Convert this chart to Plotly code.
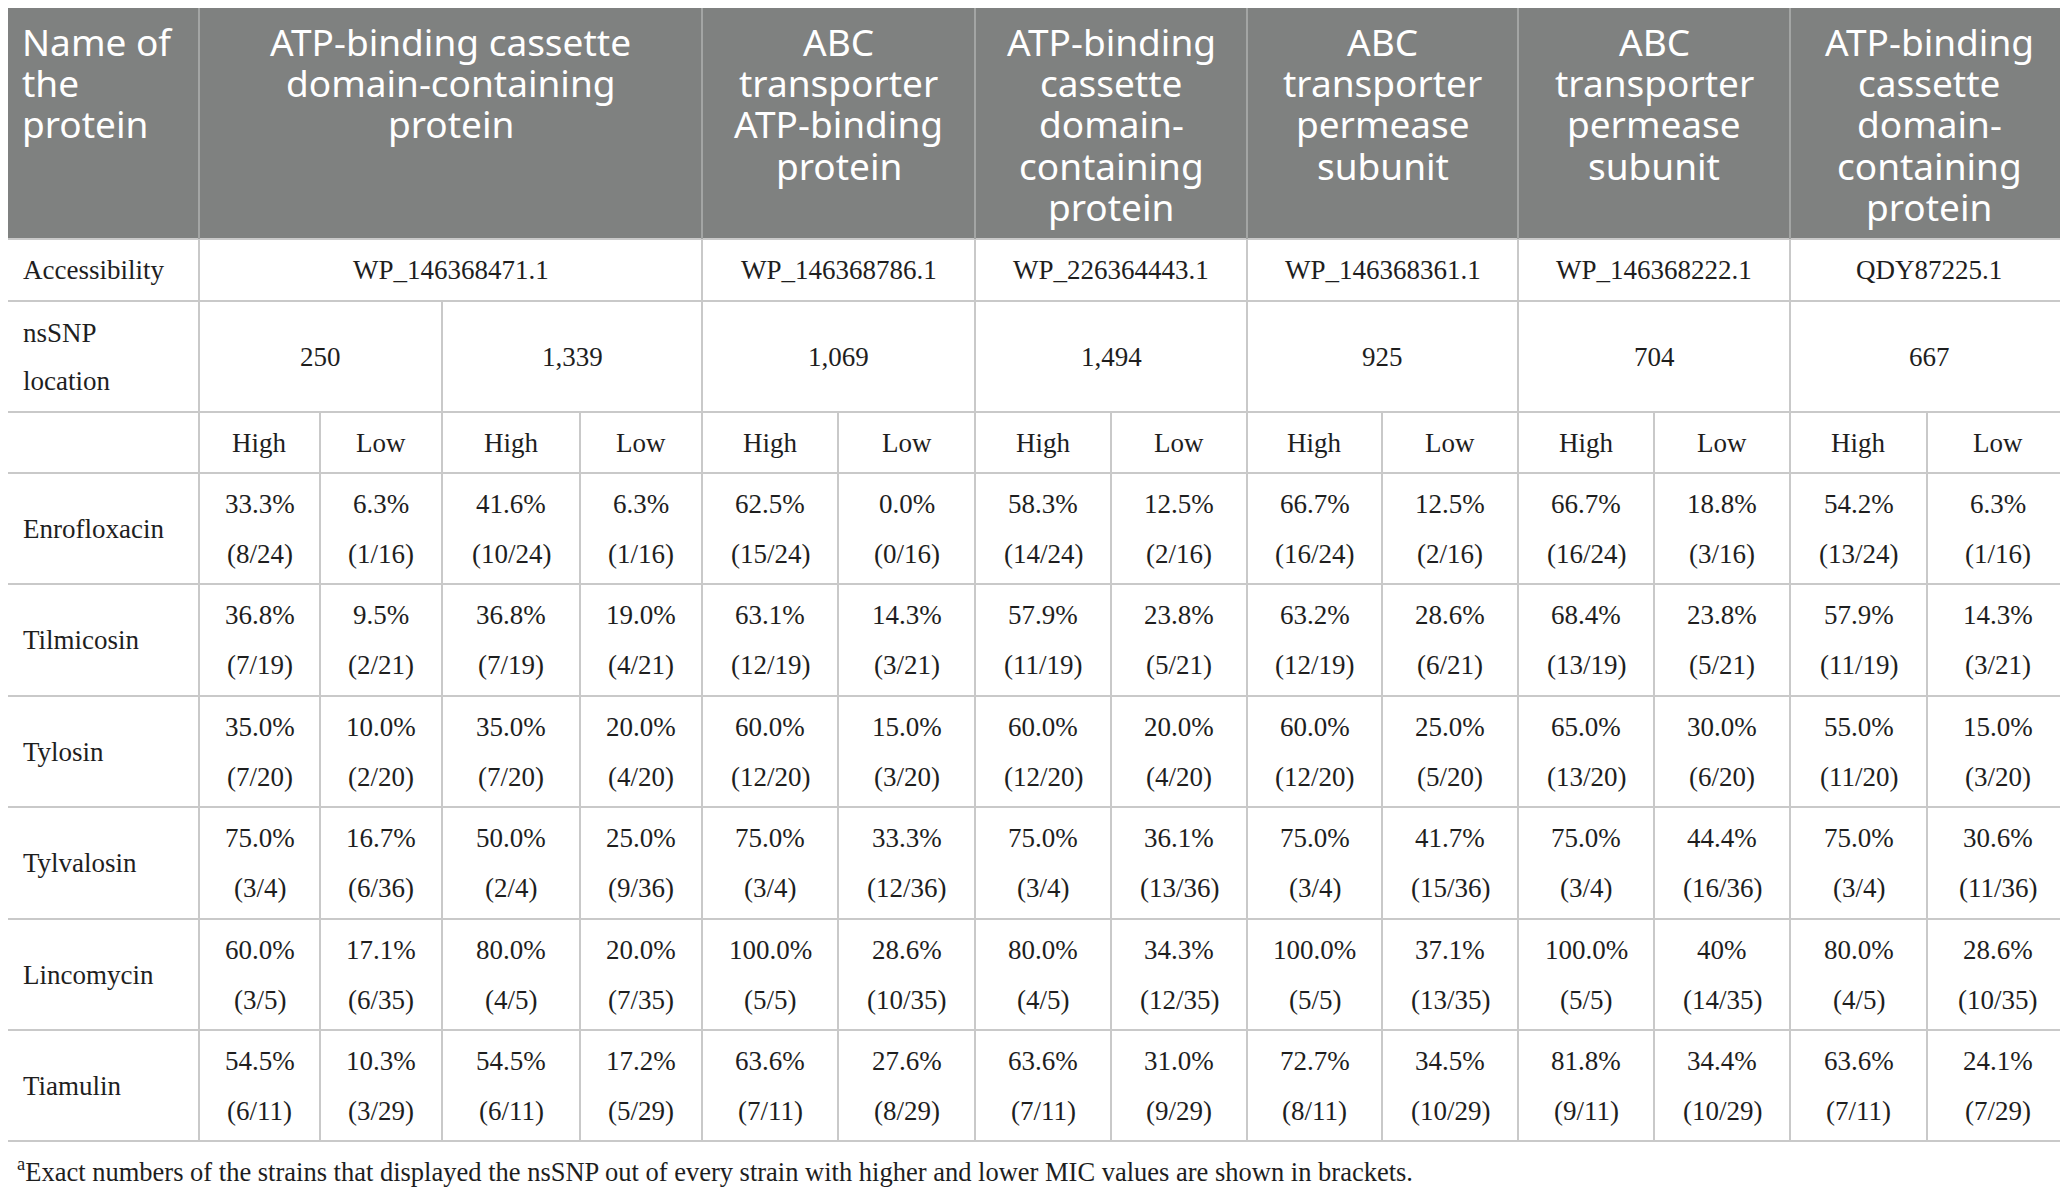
import plotly.graph_objects as go

W, H = 2068, 1194
PAD = 8  # the page body margin: the figure starts 8 px in from the window corner

# ---- table content ----
corner_title = "Name of<br>the<br>protein"
proteins = [
    "ATP-binding cassette<br>domain-containing<br>protein",
    "ABC<br>transporter<br>ATP-binding<br>protein",
    "ATP-binding<br>cassette<br>domain-<br>containing<br>protein",
    "ABC<br>transporter<br>permease<br>subunit",
    "ABC<br>transporter<br>permease<br>subunit",
    "ATP-binding<br>cassette<br>domain-<br>containing<br>protein",
]
accessions = ["WP_146368471.1", "WP_146368786.1", "WP_226364443.1",
              "WP_146368361.1", "WP_146368222.1", "QDY87225.1"]
row_labels = ["Accessibility", "nsSNP<br>location"]
locations = ["250", "1,339", "1,069", "1,494", "925", "704", "667"]
location_protein = [0, 0, 1, 2, 3, 4, 5]
mic_levels = ["High", "Low"]

antibiotics = ["Enrofloxacin", "Tilmicosin", "Tylosin", "Tylvalosin",
               "Lincomycin", "Tiamulin"]
enrofloxacin_pct = ["33.3%", "6.3%", "41.6%", "6.3%", "62.5%", "0.0%", "58.3%",
                    "12.5%", "66.7%", "12.5%", "66.7%", "18.8%", "54.2%", "6.3%"]
enrofloxacin_n = ["(8/24)", "(1/16)", "(10/24)", "(1/16)", "(15/24)", "(0/16)", "(14/24)",
                  "(2/16)", "(16/24)", "(2/16)", "(16/24)", "(3/16)", "(13/24)", "(1/16)"]
tilmicosin_pct = ["36.8%", "9.5%", "36.8%", "19.0%", "63.1%", "14.3%", "57.9%",
                  "23.8%", "63.2%", "28.6%", "68.4%", "23.8%", "57.9%", "14.3%"]
tilmicosin_n = ["(7/19)", "(2/21)", "(7/19)", "(4/21)", "(12/19)", "(3/21)", "(11/19)",
                "(5/21)", "(12/19)", "(6/21)", "(13/19)", "(5/21)", "(11/19)", "(3/21)"]
tylosin_pct = ["35.0%", "10.0%", "35.0%", "20.0%", "60.0%", "15.0%", "60.0%",
               "20.0%", "60.0%", "25.0%", "65.0%", "30.0%", "55.0%", "15.0%"]
tylosin_n = ["(7/20)", "(2/20)", "(7/20)", "(4/20)", "(12/20)", "(3/20)", "(12/20)",
             "(4/20)", "(12/20)", "(5/20)", "(13/20)", "(6/20)", "(11/20)", "(3/20)"]
tylvalosin_pct = ["75.0%", "16.7%", "50.0%", "25.0%", "75.0%", "33.3%", "75.0%",
                  "36.1%", "75.0%", "41.7%", "75.0%", "44.4%", "75.0%", "30.6%"]
tylvalosin_n = ["(3/4)", "(6/36)", "(2/4)", "(9/36)", "(3/4)", "(12/36)", "(3/4)",
                "(13/36)", "(3/4)", "(15/36)", "(3/4)", "(16/36)", "(3/4)", "(11/36)"]
lincomycin_pct = ["60.0%", "17.1%", "80.0%", "20.0%", "100.0%", "28.6%", "80.0%",
                  "34.3%", "100.0%", "37.1%", "100.0%", "40%", "80.0%", "28.6%"]
lincomycin_n = ["(3/5)", "(6/35)", "(4/5)", "(7/35)", "(5/5)", "(10/35)", "(4/5)",
                "(12/35)", "(5/5)", "(13/35)", "(5/5)", "(14/35)", "(4/5)", "(10/35)"]
tiamulin_pct = ["54.5%", "10.3%", "54.5%", "17.2%", "63.6%", "27.6%", "63.6%",
                "31.0%", "72.7%", "34.5%", "81.8%", "34.4%", "63.6%", "24.1%"]
tiamulin_n = ["(6/11)", "(3/29)", "(6/11)", "(5/29)", "(7/11)", "(8/29)", "(7/11)",
              "(9/29)", "(8/11)", "(10/29)", "(9/11)", "(10/29)", "(7/11)", "(7/29)"]

footnote = ("<sup>a</sup>Exact numbers of the strains that displayed the nsSNP out of every "
            "strain with higher and lower MIC values are shown in brackets.")

pct_rows = [enrofloxacin_pct, tilmicosin_pct, tylosin_pct, tylvalosin_pct,
            lincomycin_pct, tiamulin_pct]
n_rows = [enrofloxacin_n, tilmicosin_n, tylosin_n, tylvalosin_n, lincomycin_n, tiamulin_n]

# ---- layout geometry (window pixels) ----
col_edges = [0, 199, 320, 442, 580, 702, 838, 975, 1111, 1247, 1382, 1518, 1654, 1790, 1927, 2068]
row_edges = [4, 239, 301, 412, 473, 584, 696, 807, 919, 1030, 1141]
header_bg = "#7f8180"
grid = "#c9c9c9"
ink = "#1e1e1e"
serif = "Liberation Serif"
sans = "Noto Sans"
head_size, body_size, note_size = 37, 27, 26.5

# sub-column range spanned by each protein / location
loc_cols = [(2 * j + 1, 2 * j + 3) for j in range(len(locations))]
prot_cols = []
for p in range(len(proteins)):
    js = [j for j, q in enumerate(location_protein) if q == p]
    prot_cols.append((loc_cols[js[0]][0], loc_cols[js[-1]][1]))

fig = go.Figure()
shapes = []
ann = []


def hline(y, x0=0, x1=W, color=grid, w=2):
    shapes.append(dict(type="line", x0=x0, x1=x1, y0=y, y1=y, line=dict(color=color, width=w)))


def vline(x, y0, y1, color=grid, w=2):
    shapes.append(dict(type="line", x0=x, x1=x, y0=y0, y1=y1, line=dict(color=color, width=w)))


def text(x, y, s, size, color=ink, font=serif, xanchor="center"):
    ann.append(dict(x=x, y=y, text=s, showarrow=False, xanchor=xanchor, yanchor="middle",
                    font=dict(family=font, size=size, color=color)))


# header block
shapes.append(dict(type="rect", x0=0, x1=W, y0=row_edges[0] + 1, y1=row_edges[1],
                   fillcolor=header_bg, line=dict(width=0), layer="below"))
hline(row_edges[0])
for y in row_edges[1:]:
    hline(y)
vline(col_edges[1], row_edges[0], row_edges[-1], "#a3a5a4")
vline(col_edges[1], row_edges[1], row_edges[-1])
for a, b in prot_cols[:-1]:
    vline(col_edges[b], row_edges[0], row_edges[1], "#a3a5a4")
    vline(col_edges[b], row_edges[1], row_edges[-1])
prot_bounds = [col_edges[pb] for _, pb in prot_cols]
for a, b in loc_cols:
    if col_edges[b] not in prot_bounds:
        vline(col_edges[b], row_edges[2], row_edges[-1])
for a, b in loc_cols:
    vline(col_edges[a + 1], row_edges[3], row_edges[-1])

# header text, one line at a time
line_gap = 41.4
first_line = 41


def header(x, label, xanchor="center"):
    for i, part in enumerate(label.split("<br>")):
        text(x, first_line + i * line_gap, part, head_size, "white", sans, xanchor)


header(20, corner_title, "left")
for p, (a, b) in enumerate(prot_cols):
    header((col_edges[a] + col_edges[b]) / 2, proteins[p])

# accessibility row
ymid = (row_edges[1] + row_edges[2]) / 2
text(21, ymid, row_labels[0], body_size, xanchor="left")
for p, (a, b) in enumerate(prot_cols):
    text((col_edges[a] + col_edges[b]) / 2, ymid, accessions[p], body_size)

# nsSNP location row
ymid = (row_edges[2] + row_edges[3]) / 2
for i, part in enumerate(row_labels[1].split("<br>")):
    text(21, ymid - 24 + 48 * i, part, body_size, xanchor="left")
for j, (a, b) in enumerate(loc_cols):
    text((col_edges[a] + col_edges[b]) / 2, ymid, locations[j], body_size)

# High / Low row
ymid = (row_edges[3] + row_edges[4]) / 2
for c in range(1, len(col_edges) - 1):
    text((col_edges[c] + col_edges[c + 1]) / 2, ymid, mic_levels[(c - 1) % 2], body_size)

# antibiotic rows
for r, name in enumerate(antibiotics):
    ymid = (row_edges[4 + r] + row_edges[5 + r]) / 2
    text(21, ymid, name, body_size, xanchor="left")
    for c in range(len(pct_rows[r])):
        xm = (col_edges[c + 1] + col_edges[c + 2]) / 2
        text(xm, ymid - 25, pct_rows[r][c], body_size)
        text(xm, ymid + 25, n_rows[r][c], body_size)

text(15, 1170, footnote, note_size, xanchor="left")

fig.update_layout(
    width=W - PAD, height=H - PAD,
    margin=dict(l=0, r=0, t=0, b=0),
    paper_bgcolor="white", plot_bgcolor="white",
    xaxis=dict(range=[PAD, W], visible=False, fixedrange=True),
    yaxis=dict(range=[H, PAD], visible=False, fixedrange=True),
    shapes=shapes, annotations=ann, showlegend=False,
)

fig.write_html("out.html")
